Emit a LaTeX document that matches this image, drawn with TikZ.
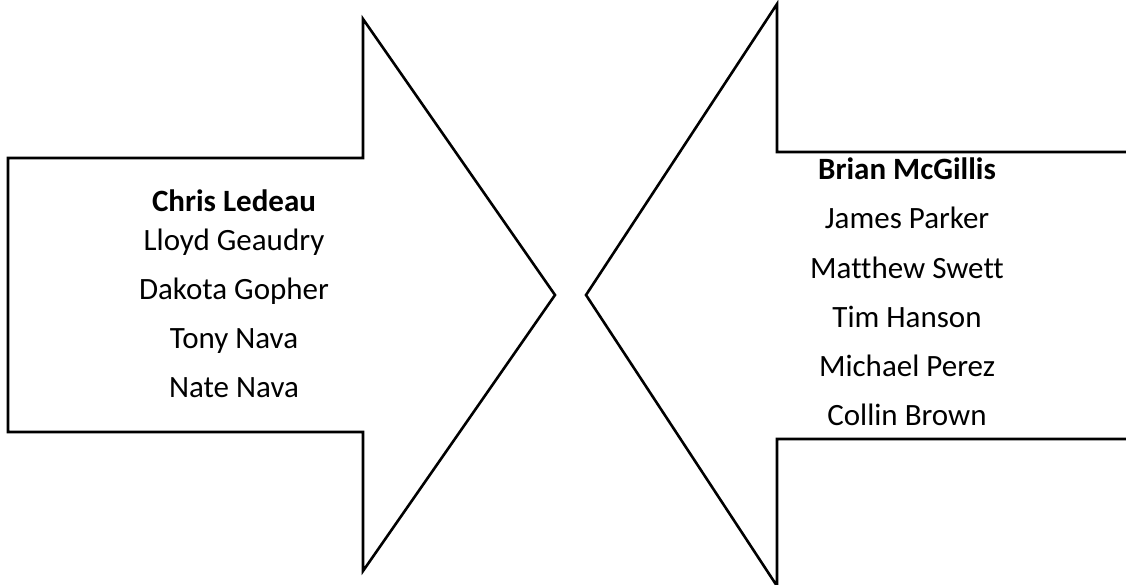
\documentclass[tikz,border=0pt]{standalone}
\usepackage{fontspec}
\setmainfont[Ligatures={NoCommon}]{Carlito}
\tikzset{
  arrowshape/.style={draw=black, line width=2.6pt, line join=miter, fill=white},
  namelabel/.style={anchor=base, inner sep=0pt, font=\fontsize{31}{36}\selectfont},
  headlabel/.style={namelabel, font=\fontsize{31}{36}\selectfont\bfseries}
}
\begin{document}
\begin{tikzpicture}[x=1pt, y=-1pt]
  \useasboundingbox (0,0) rectangle (1126,585);
  \clip (0,0) rectangle (1126,585);

  % block arrow on the left, pointing right
  \coordinate (lt) at (555,295);
  \draw[arrowshape] (8,158) -- (363,158) -- (363,19) -- (lt)
      -- (363,571) -- (363,432) -- (8,432) -- cycle;

  % block arrow on the right, pointing left, its tail running off the page
  \coordinate (rt) at (586,295);
  \draw[arrowshape] (1130,152) -- (777,152) -- (777,4) -- (rt)
      -- (777,586) -- (777,439) -- (1130,439);

  % first team
  \node[headlabel] (l1) at (234,212) {Chris Ledeau};
  \node[namelabel] (l2) at (234,251) {Lloyd Geaudry};
  \node[namelabel] (l3) at (234,299) {Dakota Gopher};
  \node[namelabel] (l4) at (234,348) {Tony Nava};
  \node[namelabel] (l5) at (234,397) {Nate Nava};

  % second team
  \node[headlabel] (r1) at (907,180) {Brian McGillis};
  \node[namelabel] (r2) at (907,229) {James Parker};
  \node[namelabel] (r3) at (907,278) {Matthew Swett};
  \node[namelabel] (r4) at (907,327) {Tim Hanson};
  \node[namelabel] (r5) at (907,376) {Michael Perez};
  \node[namelabel] (r6) at (907,425) {Collin Brown};
\end{tikzpicture}
\end{document}
